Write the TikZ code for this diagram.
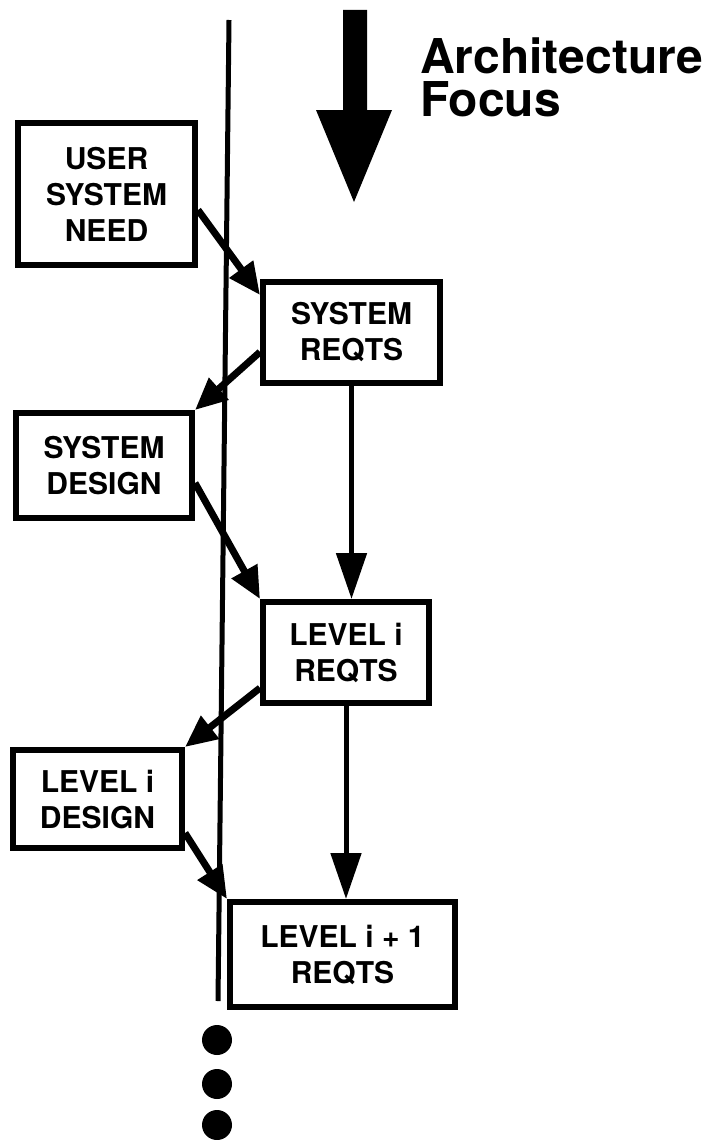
\documentclass[tikz,border=0pt]{standalone}
\usepackage{fontspec}
\setmainfont{TeX Gyre Heros}
\usetikzlibrary{arrows.meta,calc}
\begin{document}
\begin{tikzpicture}[x=1pt,y=-1pt,
  stagebox/.style={draw,line width=6pt,inner sep=0pt,align=center,
    font=\fontsize{30}{36}\selectfont\bfseries},
  flow/.style={line width=7pt,-{Triangle[length=32pt,width=28pt]}},
  down/.style={line width=5pt,-{Triangle[length=46pt,width=30pt]}},
  title/.style={inner sep=0pt,anchor=north west,align=left,
    font=\fontsize{48}{43}\selectfont\bfseries},
  dot/.style={circle,fill,inner sep=0pt,minimum size=30pt}]
\useasboundingbox (0,0) rectangle (707,1140);

% divider line
\coordinate (vtop) at (229,20);
\coordinate (vbot) at (218,1001);
\draw[line width=5pt] (vtop) -- (vbot);

% focus arrow with its caption
\fill (343,10) -- (367,10) -- (367,110) -- (392,110) -- (354,202) -- (316,110) -- (343,110) -- cycle;
\node[title] (arch) at (420,37.5) {Architecture\\Focus};

% stages
\node[stagebox,minimum width=177pt,minimum height=142pt] (user) at (106.5,194) {USER\\SYSTEM\\NEED};
\node[stagebox,minimum width=177pt,minimum height=101pt] (sreq) at (351.5,332.5) {SYSTEM\\REQTS};
\node[stagebox,minimum width=176pt,minimum height=105pt] (sdes) at (104,465.5) {SYSTEM\\DESIGN};
\node[stagebox,minimum width=166pt,minimum height=101pt] (lreq) at (346,652.5) {LEVEL i\\REQTS};
\node[stagebox,minimum width=169pt,minimum height=98pt] (ldes) at (97.5,799) {LEVEL i\\DESIGN};
\node[stagebox,minimum width=225pt,minimum height=105pt] (nreq) at (342.5,954.5) {LEVEL i + 1\\REQTS};

% zig-zag between requirements and design
\draw[flow] ([yshift=-16pt]user.east) -- ([yshift=-16pt]sreq.north west);
\draw[flow] ([yshift=-19.5pt]sreq.west) -- (sdes.north east);
\draw[flow] ([yshift=-17.5pt]sdes.east) -- (lreq.north west);
\draw[flow] ([yshift=-35.5pt]lreq.west) -- (ldes.north east);
\draw[flow] ([yshift=-34pt]ldes.east) -- (nreq.north west);

% requirements flow down
\draw[down] (sreq.south) -- (sreq.south |- lreq.north);
\draw[down] (lreq.south) -- (lreq.south |- nreq.north);

% continuation dots
\node[dot] (d1) at (217,1040) {};
\node[dot] (d2) at (217,1084) {};
\node[dot] (d3) at (217,1125) {};
\end{tikzpicture}
\end{document}
